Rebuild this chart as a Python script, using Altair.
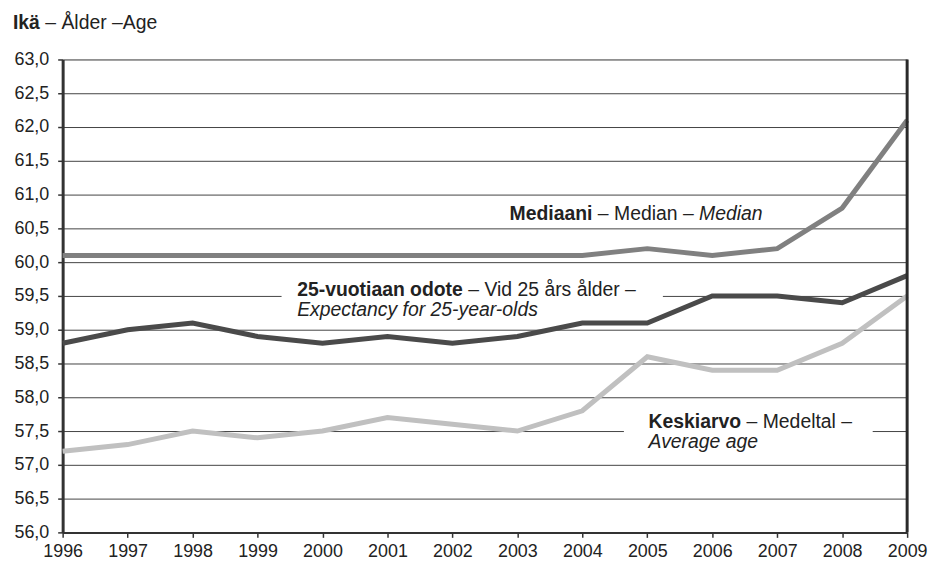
import altair as alt
import pandas as pd

years = list(range(1996, 2010))
median = [60.1, 60.1, 60.1, 60.1, 60.1, 60.1, 60.1, 60.1, 60.1, 60.2, 60.1, 60.2, 60.8, 62.1]
exp25 = [58.8, 59.0, 59.1, 58.9, 58.8, 58.9, 58.8, 58.9, 59.1, 59.1, 59.5, 59.5, 59.4, 59.8]
average = [57.2, 57.3, 57.5, 57.4, 57.5, 57.7, 57.6, 57.5, 57.8, 58.6, 58.4, 58.4, 58.8, 59.5]
series_names = ["Mediaani", "25-vuotiaan odote", "Keskiarvo"]
series_colors = ["#808080", "#4a4a4a", "#c0c0c0"]
y_ticks = [56.0 + 0.5 * i for i in range(15)]

FONT = "Liberation Sans"
FS = 19.5
TXT = "#222222"

rows = []
for name, vals in zip(series_names, [median, exp25, average]):
    for yr, v in zip(years, vals):
        rows.append({"year": yr, "value": v, "series": name})
df = pd.DataFrame(rows)

x_scale = alt.Scale(domain=[1996, 2009], nice=False, zero=False)
y_scale = alt.Scale(domain=[56, 63], nice=False, zero=False)
x_axis = alt.Axis(values=years, format="d", title=None, grid=False,
                  labelFont=FONT, labelFontSize=18, labelColor=TXT,
                  domainColor="#333333", domainWidth=2,
                  tickColor="#333333", tickSize=5, tickWidth=1.5,
                  labelPadding=5, labelFlush=False, labelOverlap=False)
y_axis = alt.Axis(values=y_ticks, title=None,
                  labelExpr="replace(format(datum.value, '.1f'), '.', ',')",
                  labelFont=FONT, labelFontSize=18, labelColor=TXT,
                  domainColor="#333333", domainWidth=3,
                  tickColor="#333333", tickSize=5, tickWidth=1.5,
                  labelPadding=9, grid=True, gridColor="#444444",
                  gridWidth=1, labelFlush=False, labelOverlap=False)


def X(field):
    return alt.X(field, scale=x_scale, axis=x_axis)


def Y(field):
    return alt.Y(field, scale=y_scale, axis=y_axis)


lines = alt.Chart(df).mark_line(strokeWidth=5, strokeJoin="miter").encode(
    x=X("year:Q"), y=Y("value:Q"),
    color=alt.Color("series:N", scale=alt.Scale(domain=series_names, range=series_colors), legend=None),
    order=alt.Order("year:Q"),
)

# white boxes behind labels (hide gridline)
boxes = pd.DataFrame({
    "x1": [1999.37, 2004.64], "x2": [2005.24, 2008.47],
    "y1": [59.2, 57.3], "y2": [59.8, 57.7],
})
rects = alt.Chart(boxes).mark_rect(color="white").encode(
    x=X("x1:Q"), x2="x2:Q", y=Y("y1:Q"), y2="y2:Q")

# right frame edge of the plot area
edge = alt.Chart(pd.DataFrame({"year": [2009]})).mark_rule(
    color="#2a2a2a", strokeWidth=3).encode(x=X("year:Q"))


def txt(x, y, text, dx=0, weight="normal", style="normal"):
    d = pd.DataFrame({"year": [x], "value": [y], "t": [text]})
    return alt.Chart(d).mark_text(align="left", baseline="alphabetic", dx=dx,
                                  font=FONT, fontSize=FS, fontWeight=weight,
                                  fontStyle=style, color=TXT).encode(
        x=X("year:Q"), y=Y("value:Q"), text="t:N")


em = FS / 1000.0
sp = 278 * em
w_med_b = 4279 * em + sp
w_med_mid = (556 + 278 + 3279 + 278 + 556 + 278) * em
w_25_b = 8557 * em + sp
w_kesk_b = 4780 * em + sp

labels = [
    txt(2002.88, 60.63, "Mediaani", weight="bold"),
    txt(2002.88, 60.63, "– Median –", dx=w_med_b),
    txt(2002.88, 60.63, "Median", dx=w_med_b + w_med_mid, style="italic"),
    txt(1999.61, 59.50, "25-vuotiaan odote", weight="bold"),
    txt(1999.61, 59.50, "– Vid 25 års ålder –", dx=w_25_b),
    txt(1999.61, 59.207, "Expectancy for 25-year-olds", style="italic"),
    txt(2005.02, 57.54, "Keskiarvo", weight="bold"),
    txt(2005.02, 57.54, "– Medeltal –", dx=w_kesk_b),
    txt(2005.02, 57.245, "Average age", style="italic"),
]

w_ika = 1390 * em + sp
title_b = alt.Chart(pd.DataFrame({"t": ["Ikä"]})).mark_text(
    align="left", baseline="alphabetic", font=FONT, fontSize=FS, fontWeight="bold", color=TXT
).encode(x=alt.value(-50), y=alt.value(-31), text="t:N")
title_n = alt.Chart(pd.DataFrame({"t": ["– Ålder –Age"]})).mark_text(
    align="left", baseline="alphabetic", font=FONT, fontSize=FS, color=TXT
).encode(x=alt.value(-50 + w_ika), y=alt.value(-31), text="t:N")

chart = alt.layer(rects, lines, edge, *labels, title_b, title_n).properties(
    width=850, height=476,
    padding={"left": 55, "top": 50, "right": 21, "bottom": 28},
    autosize=alt.AutoSizeParams(type="none"),
).configure_view(stroke="#2a2a2a", strokeWidth=2.5).configure(background="white")

chart.save("out.html", embed_options={"renderer": "svg", "actions": False})
